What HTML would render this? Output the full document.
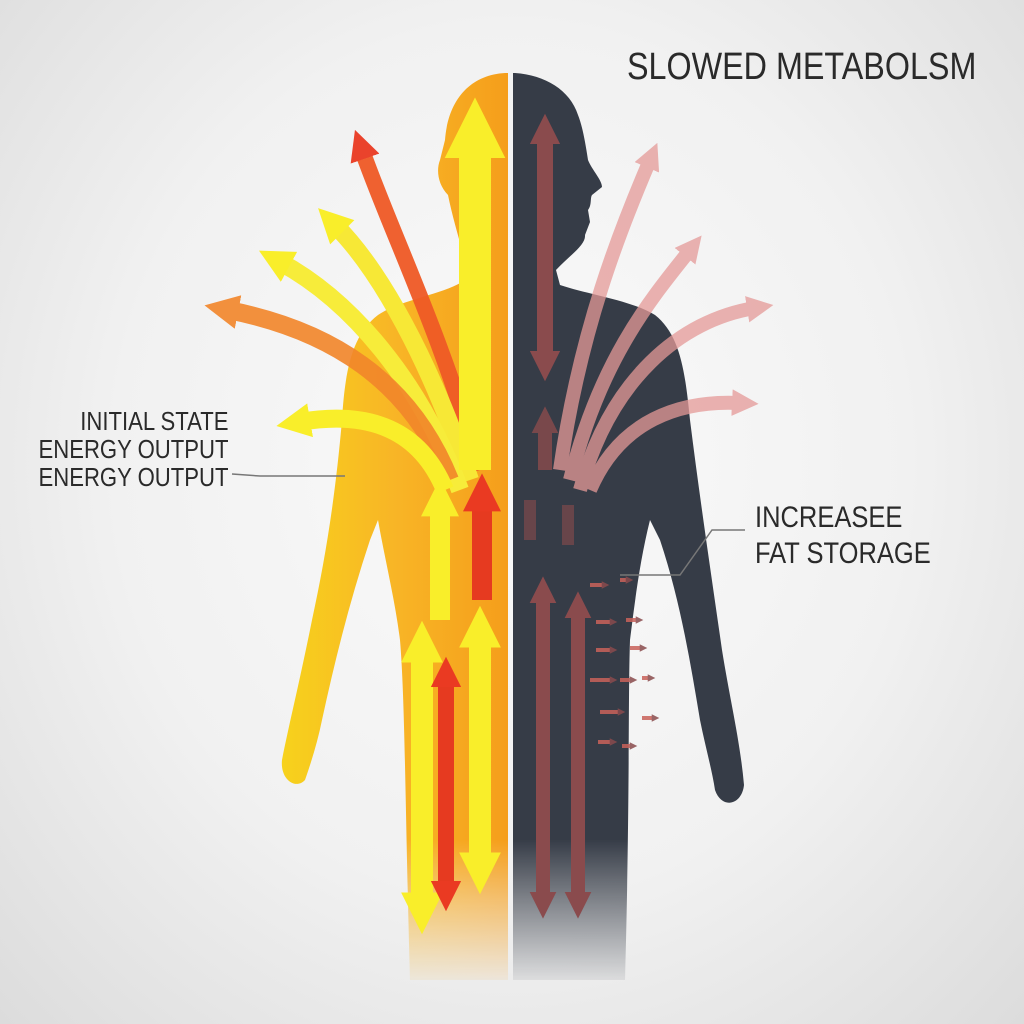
<!DOCTYPE html>
<html><head><meta charset="utf-8"><style>
html,body{margin:0;padding:0;width:1024px;height:1024px;overflow:hidden}
body{background:radial-gradient(ellipse at 50% 45%,#fafafa 0%,#f1f1f1 55%,#dcdcdc 100%);font-family:"Liberation Sans",sans-serif}
svg{position:absolute;left:0;top:0}
.t{position:absolute;color:#2a2a2a;font-size:26px;transform:scaleX(0.85);letter-spacing:0;white-space:nowrap}
</style></head><body>
<svg width="1024" height="1024" viewBox="0 0 1024 1024">
<defs>
<linearGradient id="lg" x1="0" y1="0" x2="1" y2="0">
<stop offset="0" stop-color="#f7d21c"/><stop offset="0.5" stop-color="#f8b526"/><stop offset="1" stop-color="#f59e1b"/>
</linearGradient>
<linearGradient id="fade" x1="0" y1="0" x2="0" y2="1">
<stop offset="0.82" stop-color="#fff" stop-opacity="1"/><stop offset="0.97" stop-color="#fff" stop-opacity="0"/>
</linearGradient>
<mask id="m"><rect width="1024" height="1024" fill="url(#fade)"/></mask>
<marker id="ay" viewBox="0 0 10 10" refX="3" refY="5" markerWidth="1.9" markerHeight="1.9" orient="auto-start-reverse"><path d="M0,0L10,5L0,10z" fill="#f9ee2a"/></marker>
<marker id="ar" viewBox="0 0 10 10" refX="3" refY="5" markerWidth="1.9" markerHeight="1.9" orient="auto-start-reverse"><path d="M0,0L10,5L0,10z" fill="#ea3a22"/></marker>
<marker id="ao" viewBox="0 0 10 10" refX="3" refY="5" markerWidth="1.9" markerHeight="1.9" orient="auto-start-reverse"><path d="M0,0L10,5L0,10z" fill="#f2862a"/></marker>
<marker id="ad" viewBox="0 0 10 10" refX="3" refY="5" markerWidth="1.9" markerHeight="1.9" orient="auto-start-reverse"><path d="M0,0L10,5L0,10z" fill="#8a4b4d"/></marker>
<marker id="ap" viewBox="0 0 10 10" refX="3" refY="5" markerWidth="1.9" markerHeight="1.9" orient="auto-start-reverse"><path d="M0,0L10,5L0,10z" fill="#e59a98"/></marker>
</defs>
<g mask="url(#m)">
<path d="M505,73 C470,75 448,100 445,140 L440,160 C436,170 438,185 448,195 C452,215 458,235 462,250 L462,282 C440,295 400,300 378,315 C352,335 345,370 342,420 C335,500 325,560 312,620 C300,680 290,720 282,760 C280,780 296,790 305,780 C312,760 318,740 322,720 C335,660 350,600 370,540 L378,520 C385,560 395,600 400,640 C405,700 405,800 410,980 L508,980 L508,73 Z" fill="url(#lg)"/>
<path d="M515,73 C545,75 570,90 578,115 C582,125 585,140 588,160 C592,170 602,180 602,187 L592,195 C590,198 592,205 588,210 L590,222 L585,235 C586,245 570,255 556,270 L560,285 C590,295 630,300 655,315 C680,335 685,370 690,420 C700,500 712,580 722,650 C730,700 740,740 744,785 C742,805 722,810 715,790 C712,770 705,745 700,720 C690,660 680,600 660,540 L650,520 C640,560 635,600 630,640 C628,700 630,800 625,980 L513,980 L513,73 Z" fill="#363c47"/>
</g>
<g fill="none" stroke-linecap="butt">
<path d="M480,470 C440,330 390,230 362,150" stroke="#ef5a26" stroke-width="16" marker-end="url(#ar)" opacity="0.95"/>
<path d="M470,480 C430,360 380,270 335,225" stroke="#f7e836" stroke-width="18" marker-end="url(#ay)"/>
<path d="M460,490 C420,380 350,300 280,262" stroke="#f7ec3a" stroke-width="18" marker-end="url(#ay)"/>
<path d="M450,480 C410,380 330,330 228,310" stroke="#f2862a" stroke-width="18" marker-end="url(#ao)" opacity="0.9"/>
<path d="M445,490 C420,430 370,410 300,422" stroke="#f9ee2a" stroke-width="18" marker-end="url(#ay)"/>
<path d="M475,470 L475,140" stroke="#f9ee2a" stroke-width="32" marker-end="url(#ay)"/>
<path d="M440,620 L440,505" stroke="#f9ee2a" stroke-width="20" marker-end="url(#ay)"/>
<path d="M482,600 L482,500" stroke="#e63a20" stroke-width="20" marker-end="url(#ar)"/>
<path d="M422,905 L422,650" stroke="#f9ee2a" stroke-width="22" marker-start="url(#ay)" marker-end="url(#ay)"/>
<path d="M446,890 L446,678" stroke="#e63a20" stroke-width="16" marker-start="url(#ar)" marker-end="url(#ar)"/>
<path d="M480,865 L480,635" stroke="#f9ee2a" stroke-width="22" marker-start="url(#ay)" marker-end="url(#ay)"/>
<g opacity="0.75">
<path d="M560,470 C580,330 620,230 650,160" stroke="#e59a98" stroke-width="14" marker-end="url(#ap)"/>
<path d="M570,480 C600,360 650,300 690,250" stroke="#e59a98" stroke-width="14" marker-end="url(#ap)"/>
<path d="M580,490 C610,380 680,320 755,308" stroke="#e59a98" stroke-width="14" marker-end="url(#ap)"/>
<path d="M590,490 C620,420 680,400 740,403" stroke="#e59a98" stroke-width="14" marker-end="url(#ap)"/>
</g>
<path d="M545,360 L545,135" stroke="#8a4b4d" stroke-width="16" marker-start="url(#ad)" marker-end="url(#ad)"/>
<path d="M545,470 L545,425" stroke="#8a4b4d" stroke-width="14" marker-end="url(#ad)" opacity="0.8"/>
<path d="M530,540 L530,500 M568,545 L568,505" stroke="#8a4b4d" stroke-width="12" opacity="0.6"/>
<path d="M543,900 L543,595" stroke="#8a4b4d" stroke-width="14" marker-start="url(#ad)" marker-end="url(#ad)"/>
<path d="M578,900 L578,610" stroke="#8a4b4d" stroke-width="14" marker-start="url(#ad)" marker-end="url(#ad)"/>
<g stroke="#c9625a" stroke-width="4" opacity="0.85">
<path d="M590,585 L604,585" marker-end="url(#ad)"/><path d="M620,580 L628,580" marker-end="url(#ad)"/>
<path d="M596,622 L612,622" marker-end="url(#ad)"/><path d="M626,620 L638,620" marker-end="url(#ad)"/>
<path d="M596,650 L612,650" marker-end="url(#ad)"/><path d="M630,648 L642,648" marker-end="url(#ad)"/>
<path d="M590,680 L612,680" marker-end="url(#ad)"/><path d="M620,680 L632,680" marker-end="url(#ad)"/><path d="M642,678 L650,678" marker-end="url(#ad)"/>
<path d="M600,712 L620,712" marker-end="url(#ad)"/><path d="M642,718 L654,718" marker-end="url(#ad)"/>
<path d="M598,742 L612,742" marker-end="url(#ad)"/><path d="M622,746 L632,746" marker-end="url(#ad)"/>
</g>
<path d="M232,474 L260,476 L345,476" stroke="#777" stroke-width="1.5"/>
<path d="M745,530 L712,530 L680,575 L620,575" stroke="#777" stroke-width="1.5"/>
</g>
</svg>
<div class="t" style="left:627px;top:46px;font-size:38px;transform-origin:left top">SLOWED METABOLSM</div>
<div class="t" style="right:796px;top:407px;transform-origin:right top;text-align:right;line-height:28px">INITIAL STATE<br>ENERGY OUTPUT<br>ENERGY OUTPUT</div>
<div class="t" style="left:755px;top:500px;transform-origin:left top;font-size:30px;line-height:36px">INCREASEE<br>FAT STORAGE</div>
</body></html>
